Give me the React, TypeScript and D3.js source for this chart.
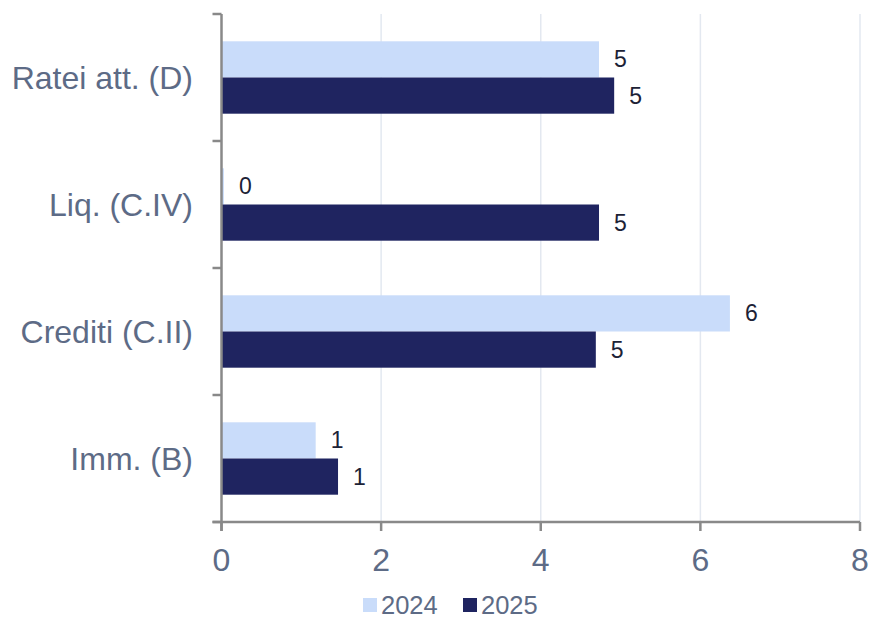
import React from "react";
import * as d3 from "d3";

const categories = ["Ratei att. (D)", "Liq. (C.IV)", "Crediti (C.II)", "Imm. (B)"];
const seriesNames = ["2024", "2025"];
const values2024 = [4.73, 0.03, 6.37, 1.18];
const values2025 = [4.92, 4.73, 4.69, 1.46];
const xTicks = [0, 2, 4, 6, 8];

const colors = ["#c9dcfa", "#1f2460"];
const W = 869, H = 627;
const left = 221.5, right = 860, top = 14, bottom = 522;
const FONT = "'Liberation Sans', Arial, sans-serif";

export default function App() {
  const x = d3.scaleLinear().domain([0, 8]).range([left, right]);
  const y = d3.scaleBand().domain(categories).range([top, bottom]).paddingInner(0.43).paddingOuter(0.215);
  const inner = d3.scaleBand().domain(seriesNames).range([0, y.bandwidth()]);
  const series = [values2024, values2025];
  const boundaries = categories.map((_, i) => top + (i * (bottom - top)) / categories.length).concat([bottom]);

  return (
    <svg width={W} height={H} style={{ position: "absolute", left: 0, top: 0, background: "#fff" }} fontFamily={FONT}>
      {xTicks.filter((t) => t > 0).map((t) => (
        <line key={"g" + t} x1={x(t)} x2={x(t)} y1={top} y2={bottom} stroke="#e3e8f0" strokeWidth={1.5} />
      ))}
      {categories.map((c, i) =>
        series.map((s, k) => {
          const yy = (y(c) as number) + (inner(seriesNames[k]) as number);
          return (
            <g key={c + k}>
              <rect x={x(0)} y={yy} width={x(s[i]) - x(0)} height={inner.bandwidth()} fill={colors[k]} />
              <text x={x(s[i]) + 15} y={yy + inner.bandwidth() / 2} dy="0.35em" fontSize={23} fill="#1c2236">
                {d3.format(".0f")(s[i])}
              </text>
            </g>
          );
        })
      )}
      {/* y axis */}
      <line x1={left} x2={left} y1={top} y2={bottom + 9} stroke="#898989" strokeWidth={2.5} />
      {boundaries.map((b, i) => (
        <line key={"yt" + i} x1={left - 9} x2={left} y1={b} y2={b} stroke="#898989" strokeWidth={2.5} />
      ))}
      {categories.map((c) => (
        <text key={"l" + c} x={193} y={(y(c) as number) + y.bandwidth() / 2} dy="0.35em" textAnchor="end" fontSize={32} fill="#5d6b86">
          {c}
        </text>
      ))}
      {/* x axis */}
      <line x1={left - 9} x2={right} y1={bottom} y2={bottom} stroke="#898989" strokeWidth={2.5} />
      {xTicks.map((t) => (
        <g key={"xt" + t}>
          <line x1={x(t)} x2={x(t)} y1={bottom} y2={bottom + 9} stroke="#898989" strokeWidth={2.5} />
          <text x={x(t)} y={560} dy="0.35em" textAnchor="middle" fontSize={32} fill="#5d6b86">
            {t}
          </text>
        </g>
      ))}
      {/* legend */}
      {seriesNames.map((n, k) => (
        <g key={"lg" + n} transform={`translate(${363 + k * 100},0)`}>
          <rect x={0} y={598} width={14} height={14} fill={colors[k]} />
          <text x={18} y={605} dy="0.35em" fontSize={25.5} fill="#5d6b86">
            {n}
          </text>
        </g>
      ))}
    </svg>
  );
}
